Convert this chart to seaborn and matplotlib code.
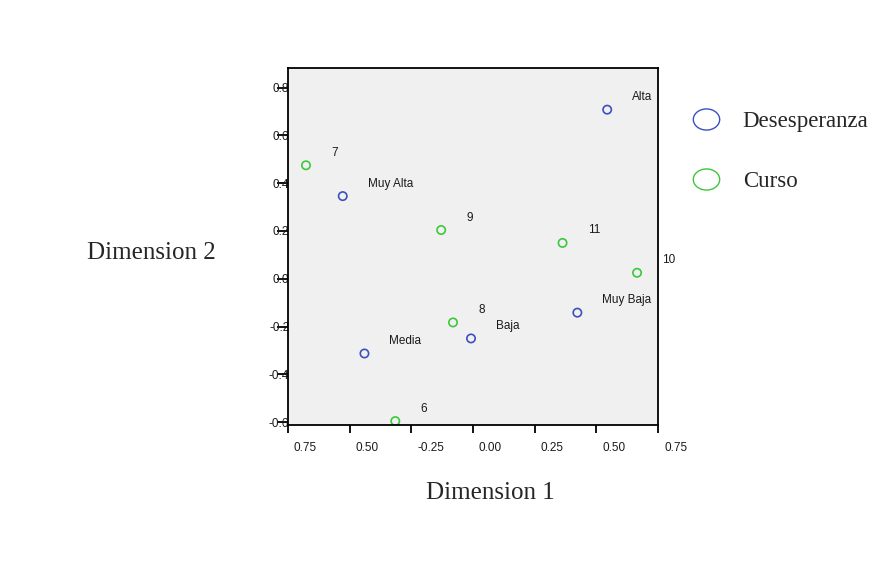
import matplotlib
matplotlib.use("Agg")
import matplotlib.pyplot as plt
import matplotlib.transforms as mtransforms
from matplotlib.lines import Line2D
from matplotlib.path import Path
import seaborn as sns
import pandas as pd

# Desesperanza categories (blue)
des_labels = ["Alta", "Muy Alta", "Media", "Baja", "Muy Baja"]
des_x = [0.544, -0.528, -0.440, -0.008, 0.423]
des_y = [0.708, 0.346, -0.313, -0.250, -0.142]

# Curso categories (green)
cur_labels = ["7", "9", "11", "10", "8", "6"]
cur_x = [-0.677, -0.129, 0.363, 0.665, -0.081, -0.315]
cur_y = [0.475, 0.204, 0.150, 0.025, -0.183, -0.596]

x_ticks = [-0.75, -0.50, -0.25, 0.00, 0.25, 0.50, 0.75]
x_ticklabels = ["0.75", "0.50", "-0.25", "0.00", "0.25", "0.50", "0.75"]
y_ticks = [0.8, 0.6, 0.4, 0.2, 0.0, -0.2, -0.4, -0.6]
y_ticklabels = ["0.8", "0.6", "0.4", "0.2", "0.0", "-0.2", "-0.4", "-0.6"]

df = pd.concat([
    pd.DataFrame({"x": des_x, "y": des_y, "label": des_labels, "grupo": "Desesperanza"}),
    pd.DataFrame({"x": cur_x, "y": cur_y, "label": cur_labels, "grupo": "Curso"}),
])

sns.set_style("white")
plt.rcParams["font.family"] = ["Liberation Sans", "DejaVu Sans"]

blue = "#3C50C0"
green = "#3CC83C"

fig = plt.figure(figsize=(8.96, 5.77), dpi=100)
ax = fig.add_axes([0.3214, 0.2634, 0.413, 0.619])
ax.set_facecolor("#F0F0F0")

sns.scatterplot(data=df, x="x", y="y", hue="grupo", palette={"Desesperanza": blue, "Curso": green},
                marker="o", s=36, linewidth=1.2, ax=ax, legend=False)
# hollow markers
coll = ax.collections[0]
cols = [blue if g == "Desesperanza" else green for g in df["grupo"]]
coll.set_facecolor("none")
coll.set_edgecolor(cols)

for _, r in df.iterrows():
    ax.annotate(r["label"], (r["x"], r["y"]), xytext=(18, 9), textcoords="offset points",
                ha="left", va="center", fontsize=8.5, color="#1a1a1a")

ax.set_xlim(-0.75, 0.75)
ax.set_ylim(-0.6125, 0.883)
ax.set_xticks(x_ticks)
ax.set_xticklabels(x_ticklabels, fontsize=8.5, color="#1a1a1a")
ax.set_yticks(y_ticks)
ax.set_yticklabels(y_ticklabels, fontsize=8.5, color="#1a1a1a")
ax.tick_params(axis="x", bottom=True, direction="out", length=6, width=1.3, pad=6, color="black")
ax.tick_params(axis="y", left=True, direction="out", length=8, width=1.3, pad=-9, color="black")
shift = mtransforms.ScaledTranslation(6 / 100, 0, fig.dpi_scale_trans)
for lbl in ax.get_xticklabels():
    lbl.set_ha("left")
    lbl.set_transform(lbl.get_transform() + shift)
for s in ax.spines.values():
    s.set_color("black")
    s.set_linewidth(1.3)
ax.set_xlabel("")
ax.set_ylabel("")

fig.text(151 / 896, 1 - 253 / 577, "Dimension 2", family="Liberation Serif", fontsize=18,
         ha="center", va="center")
fig.text(490 / 896, 1 - 493 / 577, "Dimension 1", family="Liberation Serif", fontsize=18,
         ha="center", va="center")

# legend with elliptical markers
ellipse = Path.unit_circle().transformed(mtransforms.Affine2D().scale(1.25, 1.0))
handles = [
    Line2D([], [], marker=ellipse, linestyle="", markersize=19, markerfacecolor="none",
           markeredgecolor=blue, markeredgewidth=1),
    Line2D([], [], marker=ellipse, linestyle="", markersize=19, markerfacecolor="none",
           markeredgecolor=green, markeredgewidth=1),
]
fig.legend(handles, ["Desesperanza", "Curso"], loc="upper left",
           bbox_to_anchor=(674 / 896, 1 - 102 / 577), frameon=False,
           prop={"family": "Liberation Serif", "size": 16.5}, labelspacing=1.7,
           handletextpad=0.6, borderaxespad=0)

fig.savefig("out.png", dpi=100)
